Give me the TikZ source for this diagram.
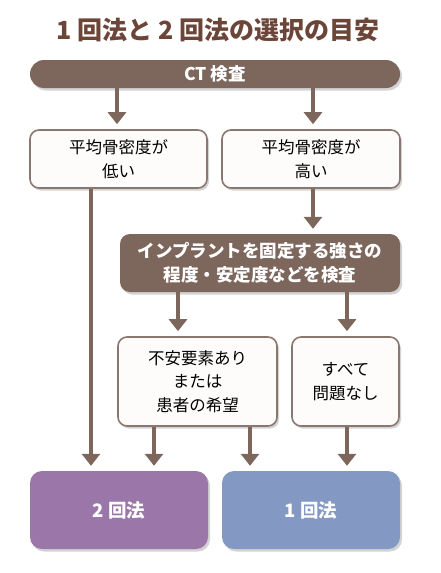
\documentclass[tikz,border=0pt]{standalone}
\usepackage{fontspec}
\setmainfont{Noto Sans CJK JP}
\usepackage{tikz}
\usetikzlibrary{arrows.meta,shadows}
\definecolor{brn}{HTML}{7D675D}
\definecolor{ttl}{HTML}{6B4538}
\definecolor{edge}{HTML}{8A7770}
\definecolor{paper}{HTML}{FDFCFA}
\definecolor{purp}{HTML}{9A77A8}
\definecolor{blu}{HTML}{8399C4}

\begin{document}
\begin{tikzpicture}[x=1pt,y=-1pt,
    shade/.style={drop shadow={shadow xshift=2pt,shadow yshift=-2.5pt,opacity=0.35}},
    whitebox/.style={draw=edge,line width=1.6pt,fill=paper,rounded corners=9pt,shade,
      inner sep=0pt,align=center,font=\fontsize{16.5}{23.5}\selectfont},
    darkbox/.style={fill=brn,text=white,rounded corners=10pt,shade,inner sep=0pt,
      align=center,font=\bfseries\fontsize{17.5}{24}\selectfont},
    endbox/.style={text=white,rounded corners=12pt,shade,inner sep=0pt,
      minimum width=178pt,minimum height=78pt,font=\bfseries\fontsize{18.5}{20}\selectfont},
    arr/.style={draw=brn,line width=3.2pt,shorten >=5pt,-{Triangle[width=18pt,length=12pt]}}]
    \useasboundingbox (0,0) rectangle (440,573);
    \node[text=ttl,font=\bfseries\fontsize{25}{28}\selectfont] (title) at (218,30) {1 回法と 2 回法の選択の目安};
    \node[darkbox,rounded corners=14pt,minimum width=370pt,minimum height=28pt,
      font=\bfseries\fontsize{17.5}{18}\selectfont] (ct) at (215,74) {CT 検査};
    \node[whitebox,minimum width=177pt,minimum height=58pt] (low) at (118.5,159) {平均骨密度が\\低い};
    \node[whitebox,minimum width=178pt,minimum height=58pt] (high) at (311,159) {平均骨密度が\\高い};
    \node[darkbox,minimum width=280pt,minimum height=58pt] (check) at (260,263)
      {インプラントを固定する強さの\\程度・安定度などを検査};
    \node[whitebox,minimum width=159pt,minimum height=89pt] (risk) at (197.5,381.5) {不安要素あり\\または\\患者の希望};
    \node[whitebox,minimum width=107pt,minimum height=89pt] (ok) at (345.5,381.5) {すべて\\問題なし};
    \node[endbox,fill=purp] (two) at (119,510) {2 回法};
    \node[endbox,fill=blu] (one) at (311,510) {1 回法};

    % arrows
    \draw[arr] (ct.south -| 117,0) -- (low.north -| 117,0);
    \draw[arr] (ct.south -| 313,0) -- (high.north -| 313,0);
    \draw[arr] (high.south -| 313,0) -- (check.north -| 313,0);
    \draw[arr] (check.south -| 178,0) -- (risk.north -| 178,0);
    \draw[arr] (check.south -| 347,0) -- (ok.north -| 347,0);
    \draw[arr] (low.south -| 91,0) -- (two.north -| 91,0);
    \draw[arr] (risk.south -| 154,0) -- (two.north -| 154,0);
    \draw[arr] (risk.south -| 250,0) -- (one.north -| 250,0);
    \draw[arr] (ok.south -| 347,0) -- (one.north -| 347,0);
\end{tikzpicture}
\end{document}
